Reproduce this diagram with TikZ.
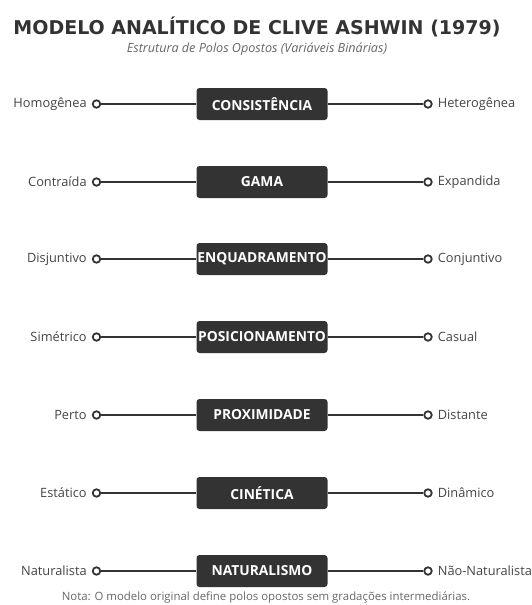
\documentclass[tikz,border=0pt]{standalone}
\usepackage{fontspec}
\setmainfont{Open Sans}
\newfontfamily\titlefont{DejaVu Sans}
\definecolor{ink}{HTML}{333333}
\definecolor{labelgray}{HTML}{444444}
\definecolor{subgray}{HTML}{666666}
\begin{document}
\begin{tikzpicture}[x=1pt,y=-1pt,
  axisbox/.style={draw=none,fill=ink,rounded corners=3pt,minimum width=131pt,minimum height=32pt,
    inner sep=0pt,text=white,font=\fontsize{13.8}{15}\selectfont\bfseries},
  pole/.style={circle,draw=ink,line width=1.8pt,fill=white,minimum size=7.5pt,inner sep=0pt},
  polelabel/.style={text=labelgray,font=\fontsize{12.8}{14}\selectfont,inner sep=0pt},
  link/.style={draw=ink,line width=1.8pt}]
\useasboundingbox (0,0) rectangle (532,605);
\node[font=\titlefont\fontsize{19}{22}\selectfont\bfseries,text=ink] (title) at (257,27)
  {MODELO ANALÍTICO DE CLIVE ASHWIN (1979)};
\node[font=\fontsize{12.6}{14}\selectfont\itshape,text=subgray] (subtitle) at (257,49)
  {Estrutura de Polos Opostos (Variáveis Binárias)};
\foreach \i/\yy/\lft/\mid/\rgt in {
  1/104/Homogênea/CONSISTÊNCIA/Heterogênea,
  2/182/Contraída/GAMA/Expandida,
  3/259/Disjuntivo/ENQUADRAMENTO/Conjuntivo,
  4/337/Simétrico/POSICIONAMENTO/Casual,
  5/415/Perto/PROXIMIDADE/Distante,
  6/493/Estático/CINÉTICA/Dinâmico,
  7/571/Naturalista/NATURALISMO/Não-Naturalista}{
  \node[axisbox] (c\i) at (262,\yy) {\mid};
  \node[pole] (l\i) at (96.5,\yy) {};
  \node[pole] (r\i) at (428,\yy) {};
  \draw[link] (l\i) -- (c\i);
  \draw[link] (c\i) -- (r\i);
  \node[polelabel,anchor=east] (lt\i) at ([xshift=-5pt]l\i.west) {\lft};
  \node[polelabel,anchor=west] (rt\i) at ([xshift=5pt]r\i.east) {\rgt};
}
\node[font=\fontsize{11.4}{13}\selectfont,text=subgray] (note) at (266,597)
  {Nota: O modelo original define polos opostos sem gradações intermediárias.};
\end{tikzpicture}
\end{document}
